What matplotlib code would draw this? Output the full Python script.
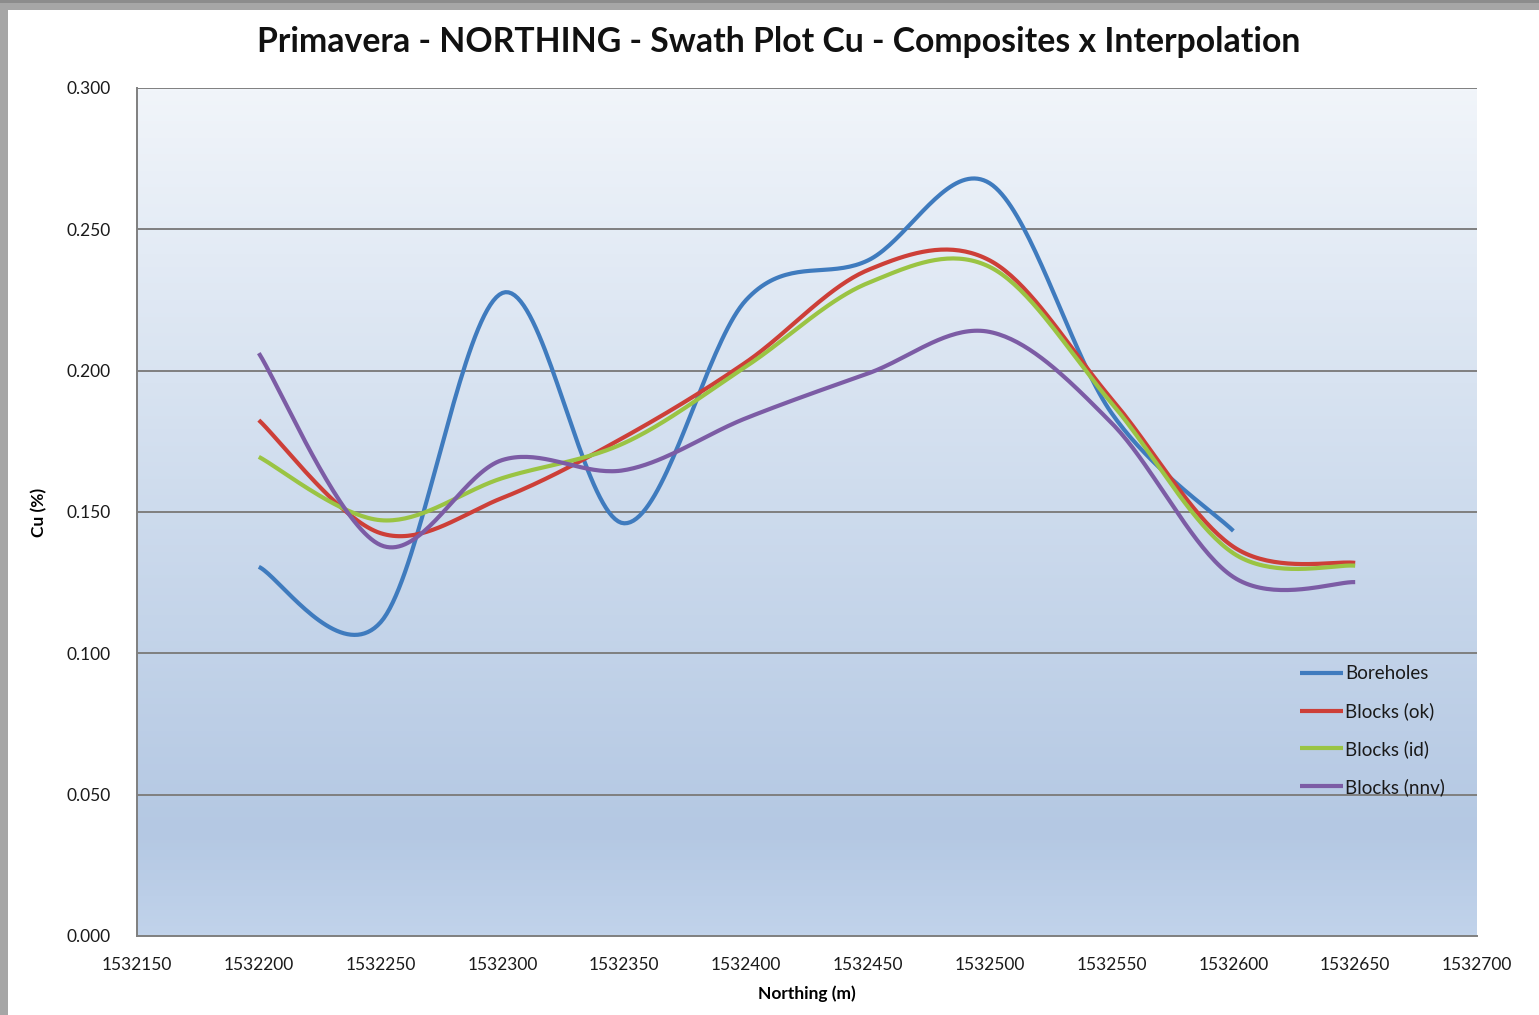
import numpy as np
import matplotlib
matplotlib.use("Agg")
import matplotlib.pyplot as plt
from matplotlib.patches import Rectangle
from matplotlib.colors import LinearSegmentedColormap

# Swath positions (northing, m) and mean Cu grades (%)
northing = [1532200, 1532250, 1532300, 1532350, 1532400,
            1532450, 1532500, 1532550, 1532600, 1532650]
boreholes = [0.1306, 0.1110, 0.2275, 0.1460, 0.2250,
             0.2390, 0.2663, 0.1850, 0.1433]
blocks_ok = [0.1825, 0.1425, 0.1550, 0.1765, 0.2030,
             0.2356, 0.2390, 0.1900, 0.1377, 0.1320]
blocks_id = [0.1695, 0.1471, 0.1620, 0.1744, 0.2015,
             0.2310, 0.2367, 0.1885, 0.1354, 0.1310]
blocks_nnv = [0.2062, 0.1383, 0.1684, 0.1648, 0.1832,
              0.1990, 0.2137, 0.1815, 0.1270, 0.1252]

series_names = ["Boreholes", "Blocks (ok)", "Blocks (id)", "Blocks (nnv)"]
series_colors = ["#3F7BBE", "#CD3F38", "#9AC443", "#7C5CA5"]

y_ticks = [0.0, 0.05, 0.10, 0.15, 0.20, 0.25, 0.30]
x_ticks = list(range(1532150, 1532701, 50))

FONT = "Lato"


def smooth(xs, ys, n=40):
    """Catmull-Rom style smoothing, as used by spreadsheet 'smoothed line' charts."""
    xs = np.asarray(xs, float)
    ys = np.asarray(ys, float)
    k = len(xs)
    px = np.concatenate([[xs[0]], xs, [xs[-1]]])
    py = np.concatenate([[ys[0]], ys, [ys[-1]]])
    out_x, out_y = [], []
    t = np.linspace(0, 1, n, endpoint=False)
    for i in range(k - 1):
        p0x, p1x, p2x, p3x = px[i:i + 4]
        p0y, p1y, p2y, p3y = py[i:i + 4]
        m1x, m2x = (p2x - p0x) / 2, (p3x - p1x) / 2
        m1y, m2y = (p2y - p0y) / 2, (p3y - p1y) / 2
        h00 = 2 * t**3 - 3 * t**2 + 1
        h10 = t**3 - 2 * t**2 + t
        h01 = -2 * t**3 + 3 * t**2
        h11 = t**3 - t**2
        out_x.append(h00 * p1x + h10 * m1x + h01 * p2x + h11 * m2x)
        out_y.append(h00 * p1y + h10 * m1y + h01 * p2y + h11 * m2y)
    out_x.append([xs[-1]])
    out_y.append([ys[-1]])
    return np.concatenate(out_x), np.concatenate(out_y)


fig = plt.figure(figsize=(15.39, 10.15), dpi=100)
fig.patch.set_facecolor("white")

# grey frame along the top and left edges
fig.patches.append(Rectangle((0, 1 - 10 / 1015), 1, 10 / 1015, transform=fig.transFigure,
                             facecolor="#a6a6a6", edgecolor="none", zorder=0))
fig.patches.append(Rectangle((0, 0), 8 / 1539, 1, transform=fig.transFigure,
                             facecolor="#a6a6a6", edgecolor="none", zorder=0))
fig.patches.append(Rectangle((0, 1 - 3 / 1015), 1, 3 / 1015, transform=fig.transFigure,
                             facecolor="#8c8c8c", edgecolor="none", zorder=0))

ax = fig.add_axes([137 / 1539, 1 - 936 / 1015, (1477 - 137) / 1539, (936 - 88) / 1015])

# vertical gradient fill of the plot area
grad_cmap = LinearSegmentedColormap.from_list(
    "plotarea",
    [(0.0, (193 / 255, 211 / 255, 235 / 255)),
     (0.12, (180 / 255, 200 / 255, 227 / 255)),
     (0.5, (205 / 255, 219 / 255, 237 / 255)),
     (1.0, (241 / 255, 245 / 255, 250 / 255))])
grad = np.linspace(0, 1, 256).reshape(-1, 1)
ax.imshow(grad, cmap=grad_cmap, origin="lower", aspect="auto",
          extent=[0, 1, 0, 1], transform=ax.transAxes, zorder=0)

ax.set_xlim(1532150, 1532700)
ax.set_ylim(0, 0.3)

for yv in y_ticks[1:]:
    ax.axhline(yv, color="#7f7f7f", lw=1.4, zorder=1)

all_series = [boreholes, blocks_ok, blocks_id, blocks_nnv]
for name, vals, col in zip(series_names, all_series, series_colors):
    sx, sy = smooth(northing[:len(vals)], vals)
    ax.plot(sx, sy, color=col, lw=3.0, label=name, solid_capstyle="butt", zorder=3)

for side in ["right", "top"]:
    ax.spines[side].set_visible(False)
for side in ["left", "bottom"]:
    ax.spines[side].set_color("#7f7f7f")
    ax.spines[side].set_linewidth(1.4)

ax.set_yticks(y_ticks)
ax.set_yticklabels([f"{v:.3f}" for v in y_ticks])
ax.set_xticks(x_ticks)
ax.set_xticklabels([str(v) for v in x_ticks])
ax.tick_params(axis="both", length=0, labelsize=12.5, colors="#1a1a1a")
ax.tick_params(axis="y", pad=19)
ax.tick_params(axis="x", pad=15)
for lab in ax.get_xticklabels() + ax.get_yticklabels():
    lab.set_fontfamily(FONT)

ax.set_xlabel("Northing (m)", fontfamily=FONT, fontweight="bold", fontsize=12.5, labelpad=9)
ax.set_ylabel("Cu (%)", fontfamily=FONT, fontweight="bold", fontsize=12.5, labelpad=14)

fig.text(0.506, 0.9586, "Primavera - NORTHING - Swath Plot Cu - Composites x Interpolation",
         ha="center", va="center", fontfamily=FONT, fontweight="bold", fontsize=24.3, color="#111111")

leg = ax.legend(loc="lower left", bbox_to_anchor=(1300 / 1539, 1 - 796 / 1015),
                bbox_transform=fig.transFigure, frameon=False,
                prop={"family": FONT, "size": 13.5}, handlelength=2.3,
                handletextpad=0.1, labelspacing=1.07, borderpad=0, borderaxespad=0)
for t in leg.get_texts():
    t.set_color("#1a1a1a")

fig.savefig("out.png", dpi=100)
